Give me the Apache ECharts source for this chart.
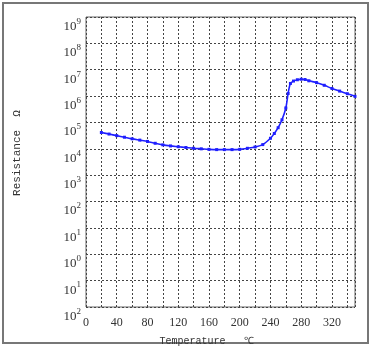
<!DOCTYPE html>
<html>
<head>
<meta charset="utf-8">
<script src="https://cdn.jsdelivr.net/npm/echarts@6/dist/echarts.min.js"></script>
<style>
html,body{margin:0;padding:0;background:#fff;}
#chart{width:374px;height:351px;}
</style>
</head>
<body>
<div id="chart"></div>
<script>
// temperature (℃) and log10 of resistance (Ω)
var temps = [20,30,40,50,60,70,80,90,100,110,120,130,140,150,160,170,180,190,200,210,220,230,240,245,250,255,260,263,266,270,275,280,285,290,300,310,320,330,340,350];
var logR  = [4.62,4.56,4.50,4.44,4.38,4.33,4.28,4.21,4.15,4.11,4.08,4.05,4.02,4.00,3.98,3.97,3.97,3.97,3.98,4.02,4.07,4.16,4.40,4.58,4.80,5.10,5.55,6.10,6.48,6.57,6.62,6.64,6.63,6.58,6.51,6.41,6.29,6.19,6.09,5.99];
// exponent labels as printed on the y axis, bottom to top
var yExpLabels = ['2','1','0','1','2','3','4','5','6','7','8','9'];

var myChart = echarts.init(document.getElementById('chart'));

var points = [];
for (var i = 0; i < temps.length; i++) {
	points.push([temps[i], logR[i]]);
}

var option = {
	backgroundColor: '#fff',
	animation: false,
	graphic: [{
		type: 'rect',
		shape: {x: 3, y: 3, width: 365, height: 340},
		style: {fill: 'none', stroke: '#777', lineWidth: 2}
	}],
	grid: {
		left: 86,
		right: 19,
		top: 17,
		bottom: 44,
		show: true,
		borderColor: '#666',
		borderWidth: 1
	},
	xAxis: {
		type: 'value',
		min: 0,
		max: 350,
		interval: 20,
		name: 'Temperature   ℃',
		nameLocation: 'middle',
		nameGap: 29,
		nameTextStyle: {
			fontFamily: 'Liberation Mono',
			fontSize: 10,
			color: '#333',
			padding: [0, 28, 0, 0]
		},
		axisLine: {show: false},
		axisTick: {show: false},
		splitLine: {
			show: true,
			lineStyle: {type: [2, 2], color: '#444', width: 1}
		},
		axisLabel: {
			margin: 10,
			fontFamily: 'Liberation Serif',
			fontSize: 12,
			color: '#333',
			formatter: function (v) {
				return v % 40 === 0 ? String(v) : '';
			}
		}
	},
	yAxis: {
		type: 'value',
		min: -2,
		max: 9,
		interval: 1,
		name: 'Resistance  Ω',
		nameLocation: 'middle',
		nameGap: 63,
		nameTextStyle: {
			fontFamily: 'Liberation Mono',
			fontSize: 11,
			color: '#333',
			padding: [0, 0, 0, 18]
		},
		axisLine: {show: false},
		axisTick: {show: false},
		splitLine: {
			show: true,
			lineStyle: {type: [2, 2], color: '#444', width: 1}
		},
		axisLabel: {
			margin: 5,
			verticalAlign: 'top',
			formatter: function (v) {
				return '{b|10}{s|' + yExpLabels[v + 2] + '}';
			},
			rich: {
				b: {fontFamily: 'Liberation Serif', fontSize: 13, color: '#333', lineHeight: 16, verticalAlign: 'bottom'},
				s: {fontFamily: 'Liberation Serif', fontSize: 9, color: '#333', lineHeight: 9, verticalAlign: 'top'}
			}
		}
	},
	series: [{
		type: 'line',
		data: points,
		smooth: 0.3,
		symbol: 'rect',
		symbolSize: 3,
		itemStyle: {color: '#1f1fff'},
		lineStyle: {color: '#1f1fff', width: 1.6}
	}]
};

myChart.setOption(option);
</script>
</body>
</html>
